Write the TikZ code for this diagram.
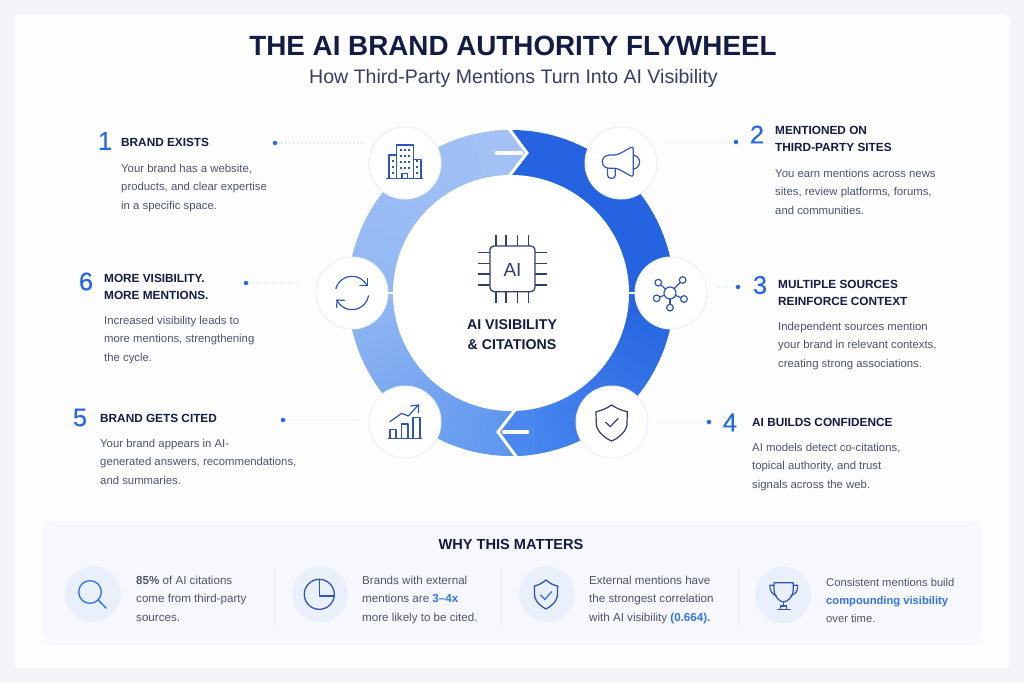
\documentclass[tikz,border=0pt]{standalone}
\usepackage{fontspec}
\usetikzlibrary{calc}
\setmainfont{Liberation Sans}
\newfontfamily\numfont[FakeBold=0.25]{Liberation Sans}
\definecolor{pagebg}{HTML}{F3F5F9}
\definecolor{cardbg}{HTML}{FDFDFE}
\definecolor{panelbg}{HTML}{F6F8FE}
\definecolor{ink}{HTML}{121C45}
\definecolor{bodyc}{HTML}{4C556B}
\definecolor{numc}{HTML}{2468E6}
\definecolor{accent}{HTML}{3474EA}
\definecolor{ringA}{HTML}{2563E0}
\definecolor{ringB}{HTML}{4A88EF}
\definecolor{ringC}{HTML}{5C95EE}
\definecolor{ringD}{HTML}{93B8F3}
\definecolor{ringE}{HTML}{A3C1F4}
\definecolor{iconc}{HTML}{2F56B4}
\definecolor{icond}{HTML}{2F3F70}
\definecolor{halo}{HTML}{E9EFFA}
\definecolor{badge}{HTML}{E9F0FC}
\definecolor{leadc}{HTML}{BBCCEC}
\definecolor{divc}{HTML}{E3EAF6}
\tikzset{
  zoomA/.style={shift={(340,110)},x=.3333pt,y=-.3333pt},
  zoomB/.style={shift={(30,510)},x=.3333pt,y=-.3333pt},
  zoomC/.style={shift={(500,510)},x=.3333pt,y=-.3333pt},
  iconline/.style={draw=iconc,line width=1.2pt,line join=round,line cap=round},
  numstyle/.style={inner sep=0,text=numc,font=\fontsize{25.5}{26}\numfont},
  headstyle/.style={anchor=north west,inner sep=0,align=left,text=ink,font=\fontsize{11.8}{17}\selectfont\bfseries},
  bodystyle/.style={anchor=north west,inner sep=0,align=left,text=bodyc,font=\fontsize{11.35}{18.3}\selectfont},
  whystyle/.style={anchor=north west,inner sep=0,align=left,text=bodyc,font=\fontsize{11.6}{18.2}\selectfont},
  whysmall/.style={whystyle,font=\fontsize{11.2}{18.2}\selectfont},
  disc/.style={circle,fill=white,draw=halo,line width=1pt,minimum size=72pt,inner sep=0},
  badgedisc/.style={circle,fill=badge,minimum size=56pt,inner sep=0},
  leaddot/.style={circle,fill=numc,minimum size=4.5pt,inner sep=0},
  leader/.style={draw=leadc,line width=1.1pt,line cap=round,dash pattern=on 0pt off 4pt},
  divider/.style={draw=divc,line width=.9pt},
}
\newcommand{\lnA}{\rule{0pt}{8pt}}
\begin{document}
\begin{tikzpicture}[x=1pt,y=-1pt]
\useasboundingbox (0,0) rectangle (1024,683);
\fill[pagebg] (0,0) rectangle (1024,683);
\fill[cardbg,rounded corners=6pt] (14,14) rectangle (1010,668);
\fill[panelbg,rounded corners=12pt] (42,521) rectangle (982,645);

% titles
\node[inner sep=0,text=ink,font=\fontsize{27.8}{30}\selectfont\bfseries] (title) at (513,46) {THE AI BRAND AUTHORITY FLYWHEEL};
\node[inner sep=0,text=ink!85,font=\fontsize{19.55}{21}\selectfont] (sub) at (513.5,78) {How Third-Party Mentions Turn Into AI Visibility};

% ring
\coordinate (c) at (511,293);
\def\Ro{163}
\foreach \i in {0,...,121}{
  \pgfmathsetmacro\aa{-87-1.5*\i}
  \pgfmathsetmacro\ab{\aa-1.8}
  \pgfmathsetmacro\tt{\i<61 ? \i/61*100 : (\i-61)/61*100}
  \ifnum\i<61 \colorlet{sl}{ringD!\tt!ringC}\else\colorlet{sl}{ringE!\tt!ringD}\fi
  \fill[sl] (c) -- ({511+\Ro*cos(\aa)},{293-\Ro*sin(\aa)}) -- ({511+\Ro*cos(\ab)},{293-\Ro*sin(\ab)}) -- cycle;
}
\foreach \i in {0,...,117}{
  \pgfmathsetmacro\aa{90-1.5*\i}
  \pgfmathsetmacro\ab{\aa-1.8}
  \pgfmathsetmacro\tt{\i<60 ? 0 : (\i-60)/58*100}
  \colorlet{sl}{ringB!\tt!ringA}
  \fill[sl] (c) -- ({511+\Ro*cos(\aa)},{293-\Ro*sin(\aa)}) -- ({511+\Ro*cos(\ab)},{293-\Ro*sin(\ab)}) -- cycle;
}
\begin{scope}
  \clip (c) circle[radius=\Ro];
  \fill[ringE] (490,120) -- (510,130) -- (527,153) -- (510,175) -- (490,185) -- cycle;
  \draw[white,line width=3pt,miter limit=10] (503,120) -- (510,130) -- (527,153) -- (510,175) -- (503,185);
  \fill[ringB] (535,400) -- (515,410) -- (498,432) -- (515,455) -- (535,465) -- cycle;
  \draw[white,line width=3pt,miter limit=10] (523,400) -- (515,410) -- (498,432) -- (515,455) -- (523,465);
\end{scope}
\draw[white,line width=4.6pt,line cap=round] (497,153) -- (521,153);
\draw[white,line width=4.6pt,line cap=round] (504,432) -- (527,432);
\draw[white,line width=2.2pt] (380,293) -- (400,293);
\draw[white,line width=2.2pt] (622,293) -- (642,293);
\fill[white] (c) circle[radius=118];

% icon discs
\node[disc] (n1) at (405,163) {};
\node[disc] (n2) at (621,163) {};
\node[disc] (n3) at (671,293) {};
\node[disc] (n4) at (612,422) {};
\node[disc] (n5) at (405,422) {};
\node[disc] (n6) at (352,293) {};

\begin{scope}[zoomA]
  % building
  \draw[iconline] (170,205) -- (170,105) -- (220,105) -- (220,205);
  \draw[iconline] (170,135) -- (147,135) -- (147,205);
  \draw[iconline] (220,148) -- (243,148) -- (243,205);
  \draw[iconline] (140,205) -- (248,205);
  \draw[iconline] (186,205) -- (186,190) -- (203,190) -- (203,205);
  \foreach \x in {183,195,207}{\foreach \y in {120,138,156,174}{\fill[iconc] (\x-3,\y-3) rectangle (\x+3,\y+3);}}
  \foreach \y in {152,170,188}{\fill[iconc] (156,\y-3) rectangle (162,\y+3);\fill[iconc] (229,\y-3) rectangle (235,\y+3);}
  % megaphone
  \draw[iconline,rounded corners=3pt] (800,135) -- (832,135) -- (880,108) -- (880,202) -- (832,175) -- (800,175) -- (787,165) -- (787,145) -- cycle;
  \draw[iconline] (880,135) .. controls (905,140) and (905,172) .. (880,178);
  \draw[iconline,rounded corners=3pt] (803,175) -- (803,205) -- (826,205) -- (826,176);
  % network
  \draw[iconline] (990,549) circle[radius=18];
  \foreach \xx/\yy in {955/518,1028/510,950/565,990/593,1032/567}{
    \draw[iconline] (\xx,\yy) circle[radius=10];
    \draw[iconline] ($(990,549)!6pt!(\xx,\yy)$) -- ($(\xx,\yy)!3.33pt!(990,549)$);
  }
  % refresh
  \draw[iconline] plot[smooth,domain=165:25,samples=20] ({36+50*cos(\x)},{549-50*sin(\x)});
  \draw[iconline] (60,527) -- (82,527) -- (82,505);
  \draw[iconline] plot[smooth,domain=-10:-155,samples=20] ({36+50*cos(\x)},{549-50*sin(\x)});
  \draw[iconline] (13,571) -- (-9,570) -- (-10,592);
  % chart
  \draw[iconline] (150,985) -- (150,958) -- (168,958) -- (168,985);
  \draw[iconline] (184,985) -- (184,942) -- (204,942) -- (204,985);
  \draw[iconline] (219,985) -- (219,922) -- (240,922) -- (240,985);
  \draw[iconline] (145,986) -- (245,986);
  \draw[iconline] (150,935) -- (185,910) -- (205,918) -- (235,885);
  \draw[iconline] (212,888) -- (236,885) -- (235,908);
  % shield
  \draw[draw=icond,line width=1.2pt,line join=round] (815,885) .. controls (800,895) and (785,902) .. (768,905) -- (769,945) .. controls (772,965) and (795,985) .. (815,993) .. controls (835,985) and (858,965) .. (861,945) -- (862,905) .. controls (845,902) and (830,895) .. (815,885) -- cycle;
  \draw[draw=icond,line width=1.2pt,line join=round,line cap=round] (797,937) -- (811,950) -- (835,925);
  % chip
  \draw[draw=icond,line width=1.3pt,rounded corners=4pt,fill=white] (450,408) rectangle (585,545);
  \foreach \k in {468,498,533,565}{
    \draw[draw=icond,line width=1.1pt] (\k,375) -- (\k,408);
    \draw[draw=icond,line width=1.1pt] (\k,545) -- (\k,578);
  }
  \foreach \k in {428,460,492,525}{
    \draw[draw=icond,line width=1.1pt] (415,\k) -- (450,\k);
    \draw[draw=icond,line width=1.1pt] (585,\k) -- (620,\k);
  }
\end{scope}
\node[inner sep=0,text=icond,font=\fontsize{19}{20}\selectfont] (chip) at (512.5,269.5) {AI};
\node[inner sep=0,text=ink,align=center,font=\fontsize{14.2}{19.5}\selectfont\bfseries] (centre) at (512,334.5) {AI VISIBILITY\\\& CITATIONS};

% step 1
\node[numstyle] (s1n) at (105,141) {1};
\node[headstyle] (s1h) at (121,138.5) {\lnA BRAND EXISTS};
\node[bodystyle] (s1b) at (121,164) {\lnA Your brand has a website,\\products, and clear expertise\\in a specific space.};
\node[leaddot] (d1) at (275,143) {};
\coordinate (e1) at (362,143);
\draw[leader] (d1) -- (e1);
% step 2
\node[numstyle] (s2n) at (757,134.5) {2};
\node[headstyle] (s2h) at (775,126.5) {\lnA MENTIONED ON\\THIRD-PARTY SITES};
\node[bodystyle] (s2b) at (775,169) {\lnA You earn mentions across news\\sites, review platforms, forums,\\and communities.};
\node[leaddot] (d2) at (736,142) {};
\coordinate (e2) at (663,142);
\draw[leader] (d2) -- (e2);
% step 3
\node[numstyle] (s3n) at (760,285) {3};
\node[headstyle] (s3h) at (778,280.5) {\lnA MULTIPLE SOURCES\\REINFORCE CONTEXT};
\node[bodystyle] (s3b) at (778,322) {\lnA Independent sources mention\\your brand in relevant contexts,\\creating strong associations.};
\node[leaddot] (d3) at (738,287) {};
\coordinate (e3) at (716,287);
\draw[leader] (d3) -- (e3);
% step 4
\node[numstyle] (s4n) at (730,422.5) {4};
\node[headstyle] (s4h) at (752,418.5) {\lnA AI BUILDS CONFIDENCE};
\node[bodystyle] (s4b) at (752,443) {\lnA AI models detect co-citations,\\topical authority, and trust\\signals across the web.};
\node[leaddot] (d4) at (709,422) {};
\coordinate (e4) at (658,422);
\draw[leader] (d4) -- (e4);
% step 5
\node[numstyle] (s5n) at (80,417.5) {5};
\node[headstyle] (s5h) at (100,414.5) {\lnA BRAND GETS CITED};
\node[bodystyle] (s5b) at (100,439) {\lnA Your brand appears in AI-\\generated answers, recommendations,\\and summaries.};
\node[leaddot] (d5) at (283,420) {};
\coordinate (e5) at (360,420);
\draw[leader] (d5) -- (e5);
% step 6
\node[numstyle] (s6n) at (86,281.5) {6};
\node[headstyle] (s6h) at (104,274.5) {\lnA MORE VISIBILITY.\\MORE MENTIONS.};
\node[bodystyle] (s6b) at (104,316) {\lnA Increased visibility leads to\\more mentions, strengthening\\the cycle.};
\node[leaddot] (d6) at (246,283) {};
\coordinate (e6) at (299,283);
\draw[leader] (d6) -- (e6);

% why this matters
\node[inner sep=0,text=ink,font=\fontsize{14.6}{15}\selectfont\bfseries] (why) at (511,544) {WHY THIS MATTERS};
\node[badgedisc] (b1) at (93,594) {};
\node[badgedisc] (b2) at (320,594) {};
\node[badgedisc] (b3) at (547,594) {};
\node[badgedisc] (b4) at (783,595) {};
\draw[divider] (274,568) -- (274,628);
\draw[divider] (501,568) -- (501,628);
\draw[divider] (738,568) -- (738,628);
\begin{scope}[zoomB]
  \draw[draw=accent,line width=1.4pt] (180,246) circle[radius=34];
  \draw[draw=accent,line width=1.5pt,line cap=round] (205,270) -- (228,294);
  \draw[draw=iconc,line width=1.3pt] (868,253) circle[radius=45];
  \draw[draw=iconc,line width=1.3pt,line join=round] (868,208) -- (868,258) -- (914,258);
\end{scope}
\begin{scope}[zoomC]
  \draw[draw=iconc,line width=1.3pt,line join=round] (138,210) .. controls (126,220) and (115,226) .. (103,228) -- (104,260) .. controls (108,278) and (125,290) .. (138,297) .. controls (151,290) and (168,278) .. (172,260) -- (173,228) .. controls (161,226) and (150,220) .. (138,210) -- cycle;
  \draw[draw=accent,line width=1.3pt,line join=round,line cap=round] (122,255) -- (135,268) -- (155,245);
  \draw[iconline] (822,218) -- (880,218) -- (880,240) .. controls (880,260) and (862,276) .. (851,276) .. controls (840,276) and (822,260) .. (822,240) -- cycle;
  \draw[iconline] (822,226) -- (810,226) .. controls (808,245) and (818,252) .. (830,258);
  \draw[iconline] (880,226) -- (893,226) .. controls (895,245) and (885,252) .. (872,258);
  \draw[iconline] (851,276) -- (851,288);
  \draw[iconline] (842,298) -- (842,288) -- (860,288) -- (860,298);
  \draw[iconline] (833,299) -- (870,299);
\end{scope}
\node[whystyle] (w1) at (136,576) {\lnA\textbf{85\%} of AI citations\\come from third-party\\sources.};
\node[whystyle] (w2) at (362,576) {\lnA Brands with external\\mentions are \textcolor{accent}{\textbf{3–4x}}\\more likely to be cited.};
\node[whystyle] (w3) at (589,576) {\lnA External mentions have\\the strongest correlation\\with AI visibility \textcolor{accent}{\textbf{(0.664).}}};
\node[whysmall] (w4) at (826,578) {\lnA Consistent mentions build\\\textcolor{accent}{\textbf{compounding visibility}}\\over time.};
\end{tikzpicture}
\end{document}
